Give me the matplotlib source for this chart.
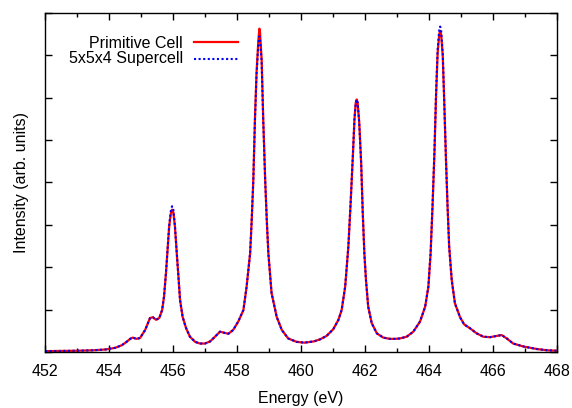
import matplotlib
matplotlib.use("Agg")
import matplotlib.pyplot as plt
from matplotlib.ticker import MultipleLocator, NullFormatter

plt.rcParams['font.family'] = ['Liberation Sans', 'DejaVu Sans']

energy = [452.0, 452.5, 453.0, 453.5, 453.9, 454.2, 454.4, 454.55, 454.66, 454.74,
          454.86, 454.97, 455.13, 455.28, 455.37, 455.47, 455.57, 455.66, 455.72, 455.78,
          455.83, 455.88, 455.93, 455.97, 456.01, 456.06, 456.11, 456.17, 456.22, 456.30,
          456.41, 456.53, 456.69, 456.84, 457.0, 457.16, 457.31, 457.47, 457.57, 457.73,
          457.88, 458.04, 458.20, 458.30, 458.41, 458.46, 458.51, 458.56, 458.61, 458.67,
          458.70, 458.72, 458.77, 458.82, 458.88, 458.93, 458.98, 459.08, 459.24, 459.40,
          459.60, 459.86, 460.1, 460.4, 460.6, 460.8, 461.01, 461.17, 461.27, 461.38,
          461.48, 461.55, 461.62, 461.67, 461.71, 461.74, 461.77, 461.82, 461.88, 461.93,
          461.98, 462.03, 462.10, 462.21, 462.37, 462.57, 462.78, 462.95, 463.09, 463.30,
          463.51, 463.72, 463.88, 463.98, 464.05, 464.11, 464.17, 464.22, 464.27, 464.32,
          464.35, 464.38, 464.43, 464.48, 464.53, 464.58, 464.63, 464.71, 464.81, 464.97,
          465.1, 465.28, 465.49, 465.70, 465.91, 466.12, 466.27, 466.43, 466.63, 466.95,
          467.37, 467.7, 468.0]

primitive = [0.02, 0.025, 0.03, 0.04, 0.06, 0.10, 0.16, 0.24, 0.31, 0.34,
             0.31, 0.33, 0.52, 0.80, 0.82, 0.76, 0.80, 0.99, 1.31, 1.86,
             2.41, 2.96, 3.26, 3.36, 3.30, 2.96, 2.41, 1.78, 1.23, 0.83,
             0.56, 0.36, 0.24, 0.20, 0.20, 0.25, 0.36, 0.48, 0.46, 0.43,
             0.52, 0.72, 0.99, 1.54, 2.33, 3.12, 4.07, 5.48, 6.59, 7.38,
             7.63, 7.53, 6.90, 5.48, 4.07, 3.12, 2.33, 1.39, 0.83, 0.52,
             0.32, 0.24, 0.22, 0.25, 0.30, 0.38, 0.54, 0.76, 0.99, 1.54,
             2.49, 3.51, 4.62, 5.48, 5.88, 5.96, 5.88, 5.41, 4.46, 3.28,
             2.33, 1.70, 1.07, 0.68, 0.44, 0.34, 0.31, 0.31, 0.32, 0.36,
             0.48, 0.72, 1.07, 1.54, 2.33, 3.43, 4.70, 6.04, 7.06, 7.50,
             7.58, 7.49, 6.98, 5.80, 4.54, 3.43, 2.49, 1.70, 1.15, 0.82,
             0.65, 0.56, 0.44, 0.36, 0.35, 0.38, 0.40, 0.32, 0.20, 0.13,
             0.07, 0.04, 0.03]

supercell = [0.02, 0.025, 0.03, 0.04, 0.06, 0.10, 0.16, 0.24, 0.31, 0.34,
             0.31, 0.33, 0.52, 0.80, 0.82, 0.76, 0.80, 0.99, 1.31, 1.86,
             2.42, 2.98, 3.32, 3.44, 3.36, 2.99, 2.42, 1.78, 1.23, 0.83,
             0.56, 0.36, 0.24, 0.20, 0.20, 0.25, 0.36, 0.48, 0.46, 0.43,
             0.52, 0.72, 0.99, 1.54, 2.33, 3.12, 4.05, 5.44, 6.52, 7.30,
             7.45, 7.38, 6.85, 5.46, 4.06, 3.12, 2.33, 1.39, 0.83, 0.52,
             0.32, 0.24, 0.22, 0.25, 0.30, 0.38, 0.54, 0.76, 0.99, 1.54,
             2.49, 3.51, 4.62, 5.48, 5.88, 5.96, 5.88, 5.41, 4.46, 3.28,
             2.33, 1.70, 1.07, 0.68, 0.44, 0.34, 0.31, 0.31, 0.32, 0.36,
             0.48, 0.72, 1.07, 1.54, 2.33, 3.45, 4.74, 6.10, 7.14, 7.60,
             7.68, 7.58, 7.04, 5.84, 4.56, 3.44, 2.49, 1.70, 1.15, 0.82,
             0.65, 0.56, 0.44, 0.36, 0.35, 0.38, 0.40, 0.32, 0.20, 0.13,
             0.07, 0.04, 0.03]

labels = ["Primitive Cell", "5x5x4 Supercell"]

FS = 11.5
fig = plt.figure(figsize=(5.72, 4.08), dpi=100)
ax = fig.add_axes([45/572, 56/408, 512/572, 339/408])

ax.plot(energy, primitive, color='#ff0000', lw=1.6, solid_joinstyle='round')
ax.plot(energy, supercell, color='#0000ff', lw=1.5, linestyle=(0, (1, 1.2)))

ax.set_xlim(452, 468)
ax.set_ylim(0, 8)
ax.xaxis.set_major_locator(MultipleLocator(2))
ax.xaxis.set_minor_locator(MultipleLocator(1))
ax.yaxis.set_major_locator(MultipleLocator(1))
ax.yaxis.set_major_formatter(NullFormatter())
ax.tick_params(axis='both', which='major', direction='in', length=5, width=1,
               top=True, right=True, labelsize=FS, pad=8.5)
ax.tick_params(axis='both', which='minor', direction='in', length=3, width=1,
               top=True, right=True)
for s in ax.spines.values():
    s.set_linewidth(1)

ax.set_xlabel("Energy (eV)", fontsize=FS, labelpad=9)
ax.set_ylabel("Intensity (arb. units)", fontsize=FS, labelpad=3)

# key (gnuplot style: text right-aligned, sample to the right)
ax.text(0.2695, 0.896, labels[0], transform=ax.transAxes, ha='right', va='baseline', fontsize=FS)
ax.text(0.2695, 0.852, labels[1], transform=ax.transAxes, ha='right', va='baseline', fontsize=FS)
ax.plot([0.291, 0.377], [0.9135, 0.9135], transform=ax.transAxes, color='#ff0000', lw=1.6)
ax.plot([0.291, 0.377], [0.864, 0.864], transform=ax.transAxes, color='#0000ff', lw=1.5,
        linestyle=(0, (1, 1.2)))

fig.savefig("out.png", dpi=100)
